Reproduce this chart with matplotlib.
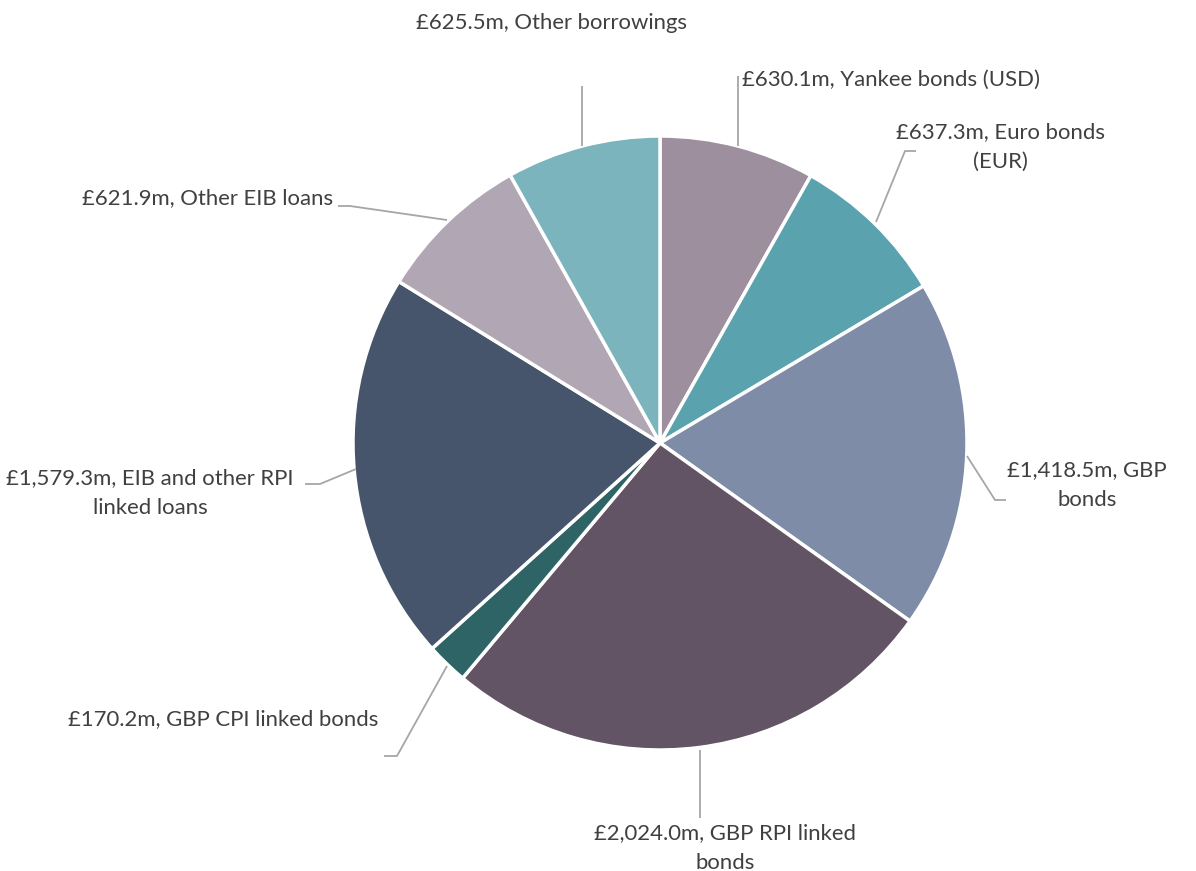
import matplotlib
matplotlib.use("Agg")
import matplotlib.pyplot as plt

labels = ["Yankee bonds (USD)", "Euro bonds\n(EUR)", "GBP\nbonds", "GBP RPI linked\nbonds",
          "GBP CPI linked bonds", "EIB and other RPI\nlinked loans", "Other EIB loans", "Other borrowings"]
values = [630.1, 637.3, 1418.5, 2024.0, 170.2, 1579.3, 621.9, 625.5]
value_text = ["£630.1m", "£637.3m", "£1,418.5m", "£2,024.0m", "£170.2m", "£1,579.3m", "£621.9m", "£625.5m"]
colors = ["#9E8F9F", "#59A2AE", "#7F8CA8", "#625464", "#2F6467", "#46556B", "#B1A6B4", "#7BB4BD"]

plt.rcParams['font.family'] = ['Lato', 'DejaVu Sans']

W, H = 1196, 871
fig = plt.figure(figsize=(W / 100, H / 100), dpi=100)
cx, cy, R = 660, 443, 307
ax = fig.add_axes([(cx - R) / W, (H - cy - R) / H, 2 * R / W, 2 * R / H])
ax.pie(values, colors=colors, startangle=90, counterclock=False, radius=1,
       wedgeprops=dict(edgecolor="white", linewidth=2.5))
ax.set_xlim(-1, 1)
ax.set_ylim(-1, 1)
ax.set_aspect("equal")
ax.axis("off")

def d(px, py):
    return ((px - cx) / R, (cy - py) / R)

# leader paths (pixel coords) and label placement
leaders = [
    [(738, 146), (738, 76)],
    [(876, 222), (905, 151), (916, 151)],
    [(967, 456), (995, 500), (1006, 500)],
    [(700, 750), (700, 818)],
    [(447, 666), (397, 756), (384, 756)],
    [(356, 469), (320, 484), (305, 484)],
    [(447, 220), (350, 206), (338, 206)],
    [(582, 146), (582, 86)],
]
label_pos = [
    ((742, 80), "left"),
    ((1000, 147), "center"),
    ((1087, 485), "center"),
    ((725, 848), "center"),
    ((378, 719), "right"),
    ((150, 493), "center"),
    ((333, 198), "right"),
    ((551, 23), "center"),
]
line_color = "#A6A6A6"
text_color = "#404040"
for i in range(len(values)):
    pts = [d(*p) for p in leaders[i]]
    xs, ys = zip(*pts)
    ax.plot(xs, ys, color=line_color, lw=1.3, clip_on=False, solid_capstyle="butt")
    (px, py), ha = label_pos[i]
    x, y = d(px, py)
    ax.text(x, y, f"{value_text[i]}, {labels[i]}", ha=ha, va="center", fontsize=15.9,
            color=text_color, multialignment="center", linespacing=1.65, clip_on=False)

fig.savefig("out.png", dpi=100)
